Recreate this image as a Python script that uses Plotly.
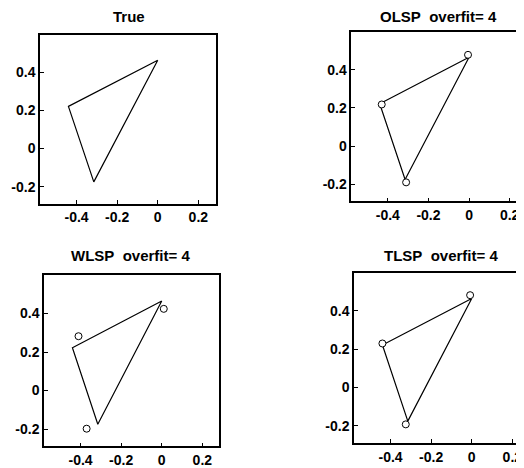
import plotly.graph_objects as go

# True triangle vertices (closed polygon)
true_x = [0.0, -0.44, -0.315, 0.0]
true_y = [0.465, 0.222, -0.175, 0.465]

# Estimated vertices (circles) for each method
olsp_x = [-0.005, -0.43, -0.31]
olsp_y = [0.478, 0.218, -0.19]
wlsp_x = [0.01, -0.41, -0.37]
wlsp_y = [0.424, 0.282, -0.198]
tlsp_x = [-0.008, -0.44, -0.325]
tlsp_y = [0.482, 0.23, -0.192]

titles = ["True", "OLSP\u00a0 overfit= 4", "WLSP\u00a0 overfit= 4", "TLSP\u00a0 overfit= 4"]

x_tickvals = [-0.4, -0.2, 0, 0.2]
x_ticktext = ["-0.4", "-0.2", "0", "0.2"]
y_tickvals = [-0.2, 0, 0.2, 0.4]
y_ticktext = ["-0.2", "0", "0.2", "0.4"]

# The page places the figure 8 px from the top-left corner (body margin)
OFF = 8
PAGE_W, PAGE_H = 524, 468
W, H = PAGE_W - OFF, PAGE_H - OFF
FONT = "Liberation Sans, Arial, Helvetica, sans-serif"

# panel boxes in page pixels: left, right, top, bottom
panels = [
    (40, 215.7, 34.7, 205.0),
    (351.3, 527.0, 31.7, 202.7),
    (44, 219.0, 276.7, 449.3),
    (354, 529.0, 274.3, 446.0),
]
px_per_unit_x = 203.0
x_left = -0.58
y_range = [-0.29, 0.6]

fig = go.Figure()

estimates = [None, (olsp_x, olsp_y), (wlsp_x, wlsp_y), (tlsp_x, tlsp_y)]

for i, (l, r, t, b) in enumerate(panels):
    idx = "" if i == 0 else str(i + 1)
    xa = "x" + idx
    ya = "y" + idx
    fig.add_trace(go.Scatter(x=true_x, y=true_y, mode="lines",
                             line=dict(color="black", width=1.2),
                             xaxis=xa, yaxis=ya, showlegend=False, hoverinfo="skip"))
    if estimates[i] is not None:
        ex, ey = estimates[i]
        fig.add_trace(go.Scatter(x=ex, y=ey, mode="markers",
                                 marker=dict(symbol="circle", size=7, color="white",
                                             line=dict(color="black", width=1)),
                                 xaxis=xa, yaxis=ya, showlegend=False, hoverinfo="skip"))
    fl, fr, ft, fb = l - OFF, r - OFF, t - OFF, b - OFF
    right_panel = fr >= W
    fr_vis = min(fr, W)
    x_right = x_left + (fr_vis - fl) / px_per_unit_x
    axfont = dict(family=FONT, size=14, color="black", weight="bold")
    fig.layout["xaxis" + idx] = dict(
        domain=[fl / W, fr_vis / W], range=[x_left, x_right], anchor=ya,
        tickvals=x_tickvals, ticktext=x_ticktext, ticks="inside", ticklen=4,
        tickcolor="black", showline=True, linecolor="black", linewidth=1.5,
        mirror=True, showgrid=False, zeroline=False, tickfont=axfont,
        ticklabeloverflow="allow",
    )
    fig.layout["yaxis" + idx] = dict(
        domain=[1 - fb / H, 1 - ft / H], range=y_range, anchor=xa,
        tickvals=y_tickvals, ticktext=y_ticktext, ticks="inside", ticklen=4,
        tickcolor="black", showline=True, linecolor="black", linewidth=1.5,
        mirror=(False if right_panel else True), showgrid=False, zeroline=False,
        tickfont=axfont,
    )

title_pos = [(129, 17), (438, 17), (130, 257), (441, 257)]
for (tx, ty), txt in zip(title_pos, titles):
    fig.add_annotation(x=(tx - OFF) / W, y=1 - (ty - OFF) / H, xref="paper", yref="paper",
                       text=txt, showarrow=False, xanchor="center", yanchor="middle",
                       font=dict(family=FONT, size=15, color="black", weight="bold"))

fig.update_layout(width=W, height=H, margin=dict(l=0, r=0, t=0, b=0),
                  paper_bgcolor="white", plot_bgcolor="white")

fig.write_html("out.html")
